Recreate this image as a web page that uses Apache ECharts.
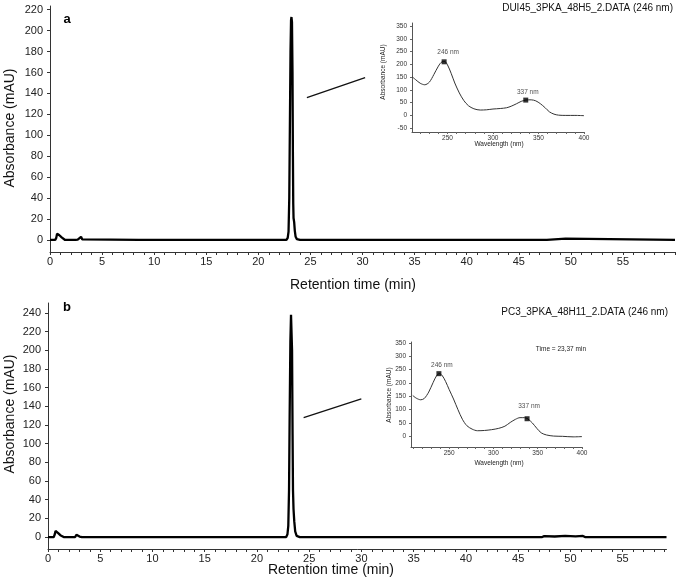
<!DOCTYPE html>
<html>
<head>
<meta charset="utf-8">
<script src="https://cdn.jsdelivr.net/npm/echarts@6/dist/echarts.min.js"></script>
<style>
html,body{margin:0;padding:0;background:#fff;}
#c{width:676px;height:578px;}
</style>
</head>
<body>
<div id="c"></div>
<script>
// ---------- DATA ----------
// Panel a chromatogram: [retention time (min), absorbance (mAU)]
const chromA = [[0,0],[0.5,0],[0.6,2],[0.68,6],[0.72,7.3],[0.8,6.5],[0.9,4.5],[1.0,3.5],[1.12,2.5],[1.25,1],[1.45,0],
  [2.45,0],[2.56,1.5],[2.66,0.3],[2.85,0.5],[2.98,3],[3.1,0.5],[3.25,0],
  [8.5,0],[8.62,1.5],[8.75,0],
  [22.7,0],[22.82,2],[22.9,8],[22.97,40],[23.03,110],[23.09,180],[23.14,210],[23.18,213],[23.23,208],[23.28,160],[23.32,80],[23.35,35],[23.38,21],[23.44,17],[23.5,9],[23.58,3],[23.7,0.8],[24.0,0],
  [47.7,0],[47.85,1.3],[49.5,1.3],[49.65,0],[60,0]];
// Panel b chromatogram
const chromB = [[0,0],[0.55,0],[0.65,3],[0.72,6.5],[0.76,7.5],[0.85,5.5],[0.95,4.5],[1.05,3.5],[1.18,2],[1.35,0.5],[1.5,0],
  [2.6,0],[2.72,2.5],[2.82,0.5],[3.02,0.5],[3.13,2.5],[3.24,0],
  [22.8,0],[22.92,3],[23.0,12],[23.07,50],[23.13,130],[23.2,210],[23.26,238],[23.31,239],[23.36,200],[23.41,110],[23.45,50],[23.5,30],[23.57,17],[23.66,6],[23.8,1.2],[24.1,0],
  [47.3,0],[47.5,1],[48.5,0.6],[49.5,1.2],[50.5,0.8],[51.2,1.2],[51.4,0],[59.2,0]];
// Call-out lines from peak to inset
const calloutA = [[24.66,136],[30.25,155]];
const calloutB = [[24.47,128],[29.99,148]];
// Inset UV spectra: [wavelength (nm), absorbance (mAU)]
const specA = [[211,152],[215,140],[220,126],[225,120],[230,130],[235,160],[240,193],[244,210],[247,211],[250,198],[254,165],[258,127],[263,88],[268,58],[273,38],[279,26],[286,21],[293,22],[300,25],[308,27],[315,30],[320,36],[326,46],[331,55],[336,60],[342,61],[347,57],[352,46],[357,31],[362,14],[367,5],[372,1],[380,0],[390,0],[400,-1]];
const specB = [[209,153],[213,143],[218,137],[222,142],[227,166],[232,202],[236,228],[239,235],[242,229],[246,206],[250,176],[255,140],[260,100],[265,64],[270,40],[276,27],[282,21],[290,22],[298,25],[306,30],[313,38],[319,52],[325,64],[330,70],[335,70],[339,65],[344,50],[349,30],[354,13],[360,5],[368,1],[378,0],[390,-2],[400,-1]];
// Peak markers on the spectra: [wavelength, absorbance, label]
const peaksA = [[246.3,210,'246 nm'],[336,60,'337 nm']];
const peaksB = [[238.5,235,'246 nm'],[338,66,'337 nm']];
// Tick values
const mainTimeLabels = [0,5,10,15,20,25,30,35,40,45,50,55];
const mainTimeTicksA = Array.from({length:61},(_,i)=>i);
const mainTimeTicksB = Array.from({length:60},(_,i)=>i);
const mainAbsLabelsA = [0,20,40,60,80,100,120,140,160,180,200,220];
const mainAbsLabelsB = [0,20,40,60,80,100,120,140,160,180,200,220,240];
const insetWlLabels = [250,300,350,400];
const insetWlTicksA = [220,230,240,250,260,270,280,290,300,310,320,330,340,350,360,370,380,390,400];
const insetWlTicksB = [210,220,230,240,250,260,270,280,290,300,310,320,330,340,350,360,370,380,390,400];
const insetAbsLabelsA = [-50,0,50,100,150,200,250,300,350];
const insetAbsLabelsB = [0,50,100,150,200,250,300,350];
const titleA = 'DUI45_3PKA_48H5_2.DATA (246 nm)';
const titleB = 'PC3_3PKA_48H11_2.DATA (246 nm)';
const timeNoteB = 'Time = 23,37 min';

// ---------- CHART ----------
const FONT = '"Liberation Sans", Arial, Helvetica, sans-serif';
const AX = '#333';
const chart = echarts.init(document.getElementById('c'), null, {renderer:'canvas'});

function mainX(idx, max, ticks){
  return {gridIndex:idx, type:'value', min:0, max:max,
    axisLine:{show:true, onZero:false, lineStyle:{color:AX, width:1}},
    axisTick:{show:true, inside:false, length:3, customValues:ticks, lineStyle:{color:AX}},
    axisLabel:{show:true, customValues:mainTimeLabels, margin:4, fontSize:11, color:'#222', fontFamily:FONT},
    splitLine:{show:false}};
}
function mainY(idx, min, max, labels){
  return {gridIndex:idx, type:'value', min:min, max:max,
    axisLine:{show:true, onZero:false, lineStyle:{color:AX, width:1}},
    axisTick:{show:true, inside:false, length:3, customValues:labels, lineStyle:{color:AX}},
    axisLabel:{show:true, customValues:labels, margin:7, fontSize:11, color:'#222', fontFamily:FONT},
    splitLine:{show:false}};
}
function insetX(idx, min, ticks){
  return {gridIndex:idx, type:'value', min:min, max:400,
    axisLine:{show:true, onZero:false, lineStyle:{color:'#555', width:1}},
    axisTick:{show:true, inside:false, length:2, customValues:ticks, lineStyle:{color:'#666'}},
    axisLabel:{show:true, customValues:insetWlLabels, margin:3, fontSize:6.5, color:'#333', fontFamily:FONT},
    splitLine:{show:false}};
}
function insetY(idx, min, max, labels){
  return {gridIndex:idx, type:'value', min:min, max:max,
    axisLine:{show:true, onZero:false, lineStyle:{color:'#555', width:1}},
    axisTick:{show:true, inside:false, length:2, customValues:labels, lineStyle:{color:'#666'}},
    axisLabel:{show:true, customValues:labels, margin:5, fontSize:6.5, color:'#333', fontFamily:FONT},
    splitLine:{show:false}};
}
function peakSeries(idx, pts, offs){
  return {type:'scatter', xAxisIndex:idx, yAxisIndex:idx, symbol:'rect', symbolSize:5,
    itemStyle:{color:'#000'}, z:5,
    data: pts.map((p,i)=>({value:[p[0],p[1]], name:p[2],
      label:{show:true, position:'top', distance:offs[i][1], offset:[offs[i][0],0],
        formatter:p[2], fontSize:6.5, color:'#222', fontFamily:FONT}}))};
}

const option = {
  animation:false,
  backgroundColor:'#fff',
  grid:[
    {left:50, top:6, width:625, height:246},
    {left:412, top:23, width:172, height:109},
    {left:48, top:303, width:618.5, height:246},
    {left:411, top:342, width:171, height:105}
  ],
  xAxis:[ mainX(0,60,mainTimeTicksA), insetX(1,211,insetWlTicksA), mainX(2,59.2,mainTimeTicksB), insetX(3,207,insetWlTicksB) ],
  yAxis:[ mainY(0,-11.5,223.5,mainAbsLabelsA), insetY(1,-65,362,insetAbsLabelsA), mainY(2,-12.8,250.7,mainAbsLabelsB), insetY(3,-40,353.7,insetAbsLabelsB) ],
  series:[
    {type:'line', xAxisIndex:0, yAxisIndex:0, data:chromA, showSymbol:false, lineStyle:{color:'#000', width:2.3}, z:3},
    {type:'line', xAxisIndex:0, yAxisIndex:0, data:calloutA, showSymbol:false, lineStyle:{color:'#111', width:1.3}},
    {type:'line', xAxisIndex:1, yAxisIndex:1, data:specA, showSymbol:false, smooth:0.3, lineStyle:{color:'#333', width:1}},
    peakSeries(1, peaksA, [[4,3.4],[2,2.3]]),
    {type:'line', xAxisIndex:2, yAxisIndex:2, data:chromB, showSymbol:false, lineStyle:{color:'#000', width:2.3}, z:3},
    {type:'line', xAxisIndex:2, yAxisIndex:2, data:calloutB, showSymbol:false, lineStyle:{color:'#111', width:1.3}},
    {type:'line', xAxisIndex:3, yAxisIndex:3, data:specB, showSymbol:false, smooth:0.3, lineStyle:{color:'#333', width:1}},
    peakSeries(3, peaksB, [[3,2.3],[2,6.3]])
  ],
  graphic:[
    {type:'text', x:673, y:8, style:{text:titleA, font:'10px '+FONT, fill:'#111', align:'right', verticalAlign:'middle'}},
    {type:'text', x:668, y:312, style:{text:titleB, font:'10px '+FONT, fill:'#111', align:'right', verticalAlign:'middle'}},
    {type:'text', x:67, y:19, style:{text:'a', font:'bold 13px '+FONT, fill:'#000', align:'center', verticalAlign:'middle'}},
    {type:'text', x:67, y:307, style:{text:'b', font:'bold 13px '+FONT, fill:'#000', align:'center', verticalAlign:'middle'}},
    {type:'text', x:353, y:285, style:{text:'Retention time (min)', font:'14px '+FONT, fill:'#111', align:'center', verticalAlign:'middle'}},
    {type:'text', x:331, y:570, style:{text:'Retention time (min)', font:'14px '+FONT, fill:'#111', align:'center', verticalAlign:'middle'}},
    {type:'text', x:10, y:128, rotation:Math.PI/2, style:{text:'Absorbance (mAU)', font:'14px '+FONT, fill:'#111', align:'center', verticalAlign:'middle'}},
    {type:'text', x:10, y:414, rotation:Math.PI/2, style:{text:'Absorbance (mAU)', font:'14px '+FONT, fill:'#111', align:'center', verticalAlign:'middle'}},
    {type:'text', x:499, y:144, style:{text:'Wavelength (nm)', font:'6.5px '+FONT, fill:'#222', align:'center', verticalAlign:'middle'}},
    {type:'text', x:499, y:463, style:{text:'Wavelength (nm)', font:'6.5px '+FONT, fill:'#222', align:'center', verticalAlign:'middle'}},
    {type:'text', x:383, y:72, rotation:Math.PI/2, style:{text:'Absorbance (mAU)', font:'6.5px '+FONT, fill:'#222', align:'center', verticalAlign:'middle'}},
    {type:'text', x:389, y:395, rotation:Math.PI/2, style:{text:'Absorbance (mAU)', font:'6.5px '+FONT, fill:'#222', align:'center', verticalAlign:'middle'}},
    {type:'text', x:586, y:349, style:{text:timeNoteB, font:'6.5px '+FONT, fill:'#222', align:'right', verticalAlign:'middle'}}
  ]
};
chart.setOption(option);
</script>
</body>
</html>
